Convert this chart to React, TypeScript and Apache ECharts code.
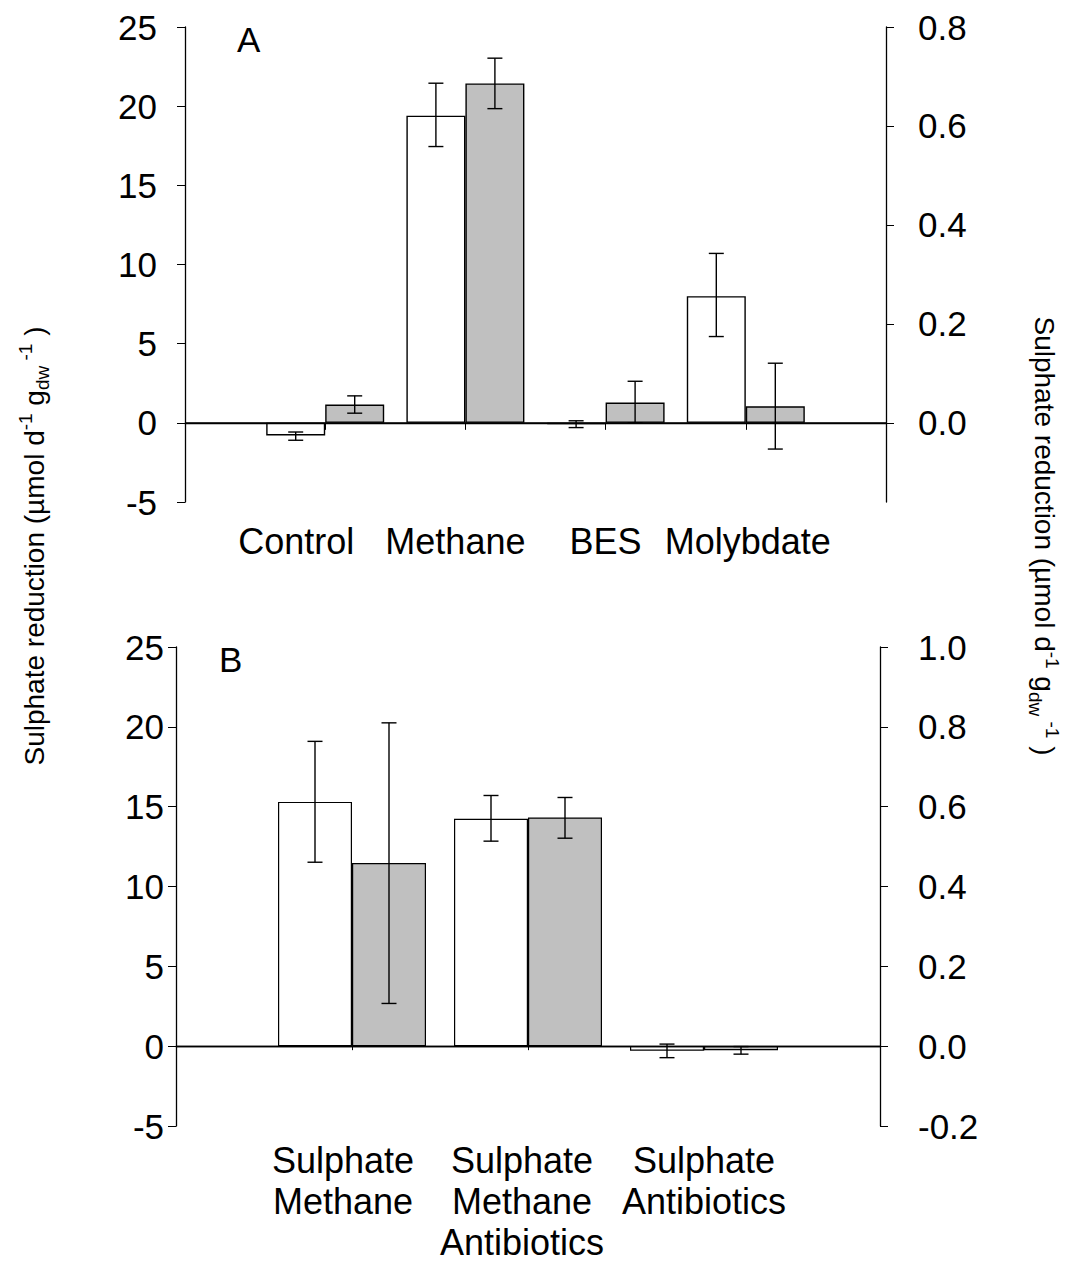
import React, { useEffect, useRef } from "react";
import * as echarts from "echarts";

// ---------- Data ----------
const catsA = ["Control", "Methane", "BES", "Molybdate"];
// white bars (left axis, µmol d-1 gdw-1)
const whiteA = [-0.8, 19.4, -0.08, 8.0];
const whiteALo = [-1.1, 17.45, -0.3, 5.45];
const whiteAHi = [-0.58, 21.45, 0.13, 10.7];
// grey bars (right axis)
const greyA = [0.037, 0.686, 0.041, 0.0335];
const greyALo = [0.0195, 0.635, 0.0, -0.053];
const greyAHi = [0.0545, 0.737, 0.084, 0.1205];

const catsB = ["Sulphate\nMethane", "Sulphate\nMethane\nAntibiotics", "Sulphate\nAntibiotics"];
const whiteB = [15.3, 14.24, -0.29];
const whiteBLo = [11.52, 12.84, -0.72];
const whiteBHi = [19.09, 15.7, 0.13];
const greyB = [0.459, 0.573, -0.0104];
const greyBLo = [0.107, 0.521, -0.02];
const greyBHi = [0.81, 0.623, -0.001];

const leftTicks = { min: -5, max: 25, interval: 5 };
const rightTicksA = [0, 0.2, 0.4, 0.6, 0.8];
const rightTicksB = { min: -0.2, max: 1.0, interval: 0.2 };

// ---------- Styles ----------
const FONT = "'Liberation Sans', Arial, sans-serif";
const GREY = "#c0c0c0";
const BW_A = 59;
const BW_B = 74;
const CAP = 7.5;
const labelShiftA = [-29, -10, 0, 2];
const labelShiftB = [-9, -6, 0];

function shiftPad(s: number) {
  return s < 0 ? [0, -2 * s, 0, 0] : [0, 0, 0, 2 * s];
}

function catData(cats: string[], shifts: number[]) {
  return ["", ...cats.map((c, i) => ({ value: c, textStyle: { padding: shiftPad(shifts[i]) } })), ""];
}

function errRender(offset: number) {
  return (params: any, api: any) => {
    const x = api.value(0);
    const pLo = api.coord([x, api.value(1)]);
    const pHi = api.coord([x, api.value(2)]);
    const cx = pLo[0] + offset;
    const st = { stroke: "#000", lineWidth: 1.4 };
    return {
      type: "group",
      children: [
        { type: "line", shape: { x1: cx, y1: pLo[1], x2: cx, y2: pHi[1] }, style: st },
        { type: "line", shape: { x1: cx - CAP, y1: pLo[1], x2: cx + CAP, y2: pLo[1] }, style: st },
        { type: "line", shape: { x1: cx - CAP, y1: pHi[1], x2: cx + CAP, y2: pHi[1] }, style: st },
      ],
    };
  };
}

function errData(cats: string[], lo: number[], hi: number[]) {
  return cats.map((c, i) => [c, lo[i], hi[i]]);
}

const axisLineStyle = { lineStyle: { color: "#000", width: 1.3 } };
const labelBase = { color: "#000", fontFamily: FONT, fontSize: 35 };

export default function App() {
  const ref = useRef<HTMLDivElement>(null);
  useEffect(() => {
    if (!ref.current) return;
    const chart = echarts.init(ref.current, undefined, { renderer: "svg" });
    const rich = {
      a: { fontSize: 28, fontFamily: FONT, color: "#000" },
      sup: { fontSize: 19, fontFamily: FONT, color: "#000", verticalAlign: "top", lineHeight: 36 },
      sub: { fontSize: 19, fontFamily: FONT, color: "#000", verticalAlign: "bottom", lineHeight: 36 },
    };
    const titleText = "{a|Sulphate reduction (µmol d}{sup|-1}{a| g}{sub|dw}{sup| -1}{a| )}";
    const option: any = {
      animation: false,
      backgroundColor: "#fff",
      grid: [
        { left: 185, top: 27, width: 701, height: 475 },
        { left: 176, top: 647, width: 704, height: 485 },
      ],
      xAxis: [
        {
          type: "category",
          gridIndex: 0,
          boundaryGap: false,
          data: catData(catsA, labelShiftA),
          axisLine: axisLineStyle,
          axisTick: { length: 7, lineStyle: { color: "#000" }, interval: (i: number, v: string) => v !== "" },
          axisLabel: { ...labelBase, fontSize: 36, margin: 21, interval: 0 },
          splitLine: { show: false },
        },
        {
          type: "category",
          gridIndex: 1,
          boundaryGap: false,
          data: catData(catsB, labelShiftB),
          axisLine: axisLineStyle,
          axisTick: { length: 4, lineStyle: { color: "#000" }, interval: (i: number, v: string) => v !== "" },
          axisLabel: { ...labelBase, fontSize: 36, margin: 14, interval: 0, lineHeight: 41 },
          splitLine: { show: false },
        },
      ],
      yAxis: [
        {
          type: "value",
          gridIndex: 0,
          position: "left",
          ...leftTicks,
          axisLine: { show: true, ...axisLineStyle },
          axisTick: { show: true, length: 8, lineStyle: { color: "#000" } },
          axisLabel: { ...labelBase, margin: 28 },
          splitLine: { show: false },
        },
        {
          type: "value",
          gridIndex: 0,
          position: "right",
          min: -0.16,
          max: 0.8,
          axisLine: { show: true, ...axisLineStyle },
          axisTick: { show: true, length: 8, lineStyle: { color: "#000" }, customValues: rightTicksA },
          axisLabel: {
            ...labelBase,
            margin: 32,
            customValues: rightTicksA,
            formatter: (v: number) => v.toFixed(1),
          },
          splitLine: { show: false },
        },
        {
          type: "value",
          gridIndex: 1,
          position: "left",
          ...leftTicks,
          axisLine: { show: true, ...axisLineStyle },
          axisTick: { show: true, length: 8, lineStyle: { color: "#000" } },
          axisLabel: { ...labelBase, margin: 12 },
          splitLine: { show: false },
        },
        {
          type: "value",
          gridIndex: 1,
          position: "right",
          ...rightTicksB,
          axisLine: { show: true, ...axisLineStyle },
          axisTick: { show: true, length: 8, lineStyle: { color: "#000" } },
          axisLabel: { ...labelBase, margin: 38, formatter: (v: number) => v.toFixed(1) },
          splitLine: { show: false },
        },
      ],
      series: [
        {
          type: "bar",
          xAxisIndex: 0,
          yAxisIndex: 0,
          data: catsA.map((c, i) => [c, whiteA[i]]),
          barWidth: BW_A,
          barGap: "0%",
          itemStyle: { color: "#fff", borderColor: "#000", borderWidth: 1.4 },
          markLine: {
            silent: true,
            symbol: "none",
            label: { show: false },
            lineStyle: { color: "#000", width: 1.6, type: "solid" },
            data: [{ yAxis: 0 }],
          },
        },
        {
          type: "bar",
          xAxisIndex: 0,
          yAxisIndex: 1,
          data: catsA.map((c, i) => [c, greyA[i]]),
          barWidth: BW_A,
          barGap: "0%",
          itemStyle: { color: GREY, borderColor: "#000", borderWidth: 1.4 },
        },
        {
          type: "custom",
          xAxisIndex: 0,
          yAxisIndex: 0,
          z: 5,
          renderItem: errRender(-BW_A / 2),
          data: errData(catsA, whiteALo, whiteAHi),
        },
        {
          type: "custom",
          xAxisIndex: 0,
          yAxisIndex: 1,
          z: 5,
          renderItem: errRender(BW_A / 2),
          data: errData(catsA, greyALo, greyAHi),
        },
        {
          type: "bar",
          xAxisIndex: 1,
          yAxisIndex: 2,
          data: catsB.map((c, i) => [c, whiteB[i]]),
          barWidth: BW_B,
          barGap: "0%",
          itemStyle: { color: "#fff", borderColor: "#000", borderWidth: 1.2 },
          markLine: {
            silent: true,
            symbol: "none",
            label: { show: false },
            lineStyle: { color: "#000", width: 1.3, type: "solid" },
            data: [{ yAxis: 0 }],
          },
        },
        {
          type: "bar",
          xAxisIndex: 1,
          yAxisIndex: 3,
          data: catsB.map((c, i) => [c, greyB[i]]),
          barWidth: BW_B,
          barGap: "0%",
          itemStyle: { color: GREY, borderColor: "#000", borderWidth: 1.2 },
        },
        {
          type: "custom",
          xAxisIndex: 1,
          yAxisIndex: 2,
          z: 5,
          renderItem: errRender(-BW_B / 2),
          data: errData(catsB, whiteBLo, whiteBHi),
        },
        {
          type: "custom",
          xAxisIndex: 1,
          yAxisIndex: 3,
          z: 5,
          renderItem: errRender(BW_B / 2),
          data: errData(catsB, greyBLo, greyBHi),
        },
      ],
      graphic: [
        {
          type: "text",
          left: 237,
          top: 22,
          style: { text: "A", fontSize: 35, fontFamily: FONT, fill: "#000" },
        },
        {
          type: "text",
          left: 219,
          top: 642,
          style: { text: "B", fontSize: 35, fontFamily: FONT, fill: "#000" },
        },
        {
          type: "text",
          x: 34,
          y: 546,
          rotation: Math.PI / 2,
          style: { text: titleText, rich, align: "center", verticalAlign: "middle" },
        },
        {
          type: "text",
          x: 1044,
          y: 536,
          rotation: -Math.PI / 2,
          style: { text: titleText, rich, align: "center", verticalAlign: "middle" },
        },
      ],
    };
    chart.setOption(option);
    return () => chart.dispose();
  }, []);
  return (
    <div
      ref={ref}
      style={{ position: "absolute", left: 0, top: 0, width: 1065, height: 1263, background: "#fff" }}
    />
  );
}
